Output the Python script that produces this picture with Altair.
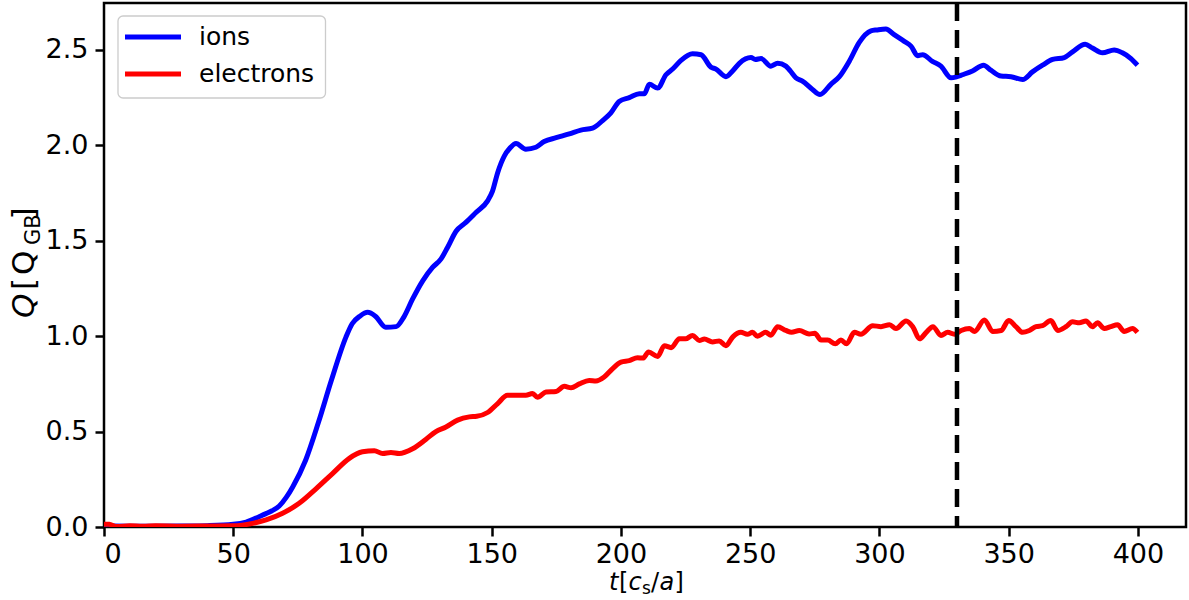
import altair as alt
import pandas as pd

# ---------------- data ----------------
t_ions = [0, 10, 20, 30, 40, 50, 55, 60, 62.7, 65, 67.8, 70.5, 73, 78, 83, 88, 93.6, 96, 99, 102, 105, 109,
          113, 116, 119.4, 123.3, 127.1, 130.4, 132.9, 136.2, 140, 143.9, 148.4, 150.3, 152.3, 154.9, 157, 159.4,
          163.2, 167.1, 170.3, 174.9, 180, 184.5, 189, 192.9, 196.1, 199.3, 203.2, 207.1, 209, 211,
          214.2, 217.4, 220, 223.2, 227.7, 231, 234.8, 236.7, 240.6, 243.2, 245.8, 250.3, 252, 254.2,
          258, 260.6, 263.8, 265.5, 267.7, 270.2, 274.1, 277, 281.2, 284.5, 288.3, 292.2, 296.7, 299,
          302.5, 305.7, 309.6, 312.2, 314.8, 316.7, 320.5, 323.8, 327.7, 330, 332.1, 336, 340.3, 343.1,
          347, 350.9, 355.4, 359.2, 363.1, 367, 371.5, 374.7, 379.6, 382.4, 386.3, 390.8, 394, 397.3, 399.8]
q_ions = [0.006, 0.004, 0.004, 0.005, 0.007, 0.014, 0.026, 0.054, 0.07, 0.085, 0.11, 0.155, 0.21, 0.35, 0.55, 0.77, 0.995, 1.065, 1.105, 1.125, 1.105, 1.047,
          1.05, 1.10, 1.195, 1.29, 1.36, 1.405, 1.465, 1.55, 1.596, 1.648, 1.709, 1.76, 1.857, 1.945, 1.985, 2.01,
          1.98, 1.99, 2.02, 2.04, 2.06, 2.08, 2.09, 2.13, 2.17, 2.23, 2.25, 2.27, 2.27, 2.32,
          2.30, 2.37, 2.40, 2.445, 2.48, 2.475, 2.41, 2.40, 2.36, 2.39, 2.43, 2.46, 2.45, 2.455,
          2.415, 2.43, 2.415, 2.39, 2.354, 2.337, 2.293, 2.267, 2.32, 2.36, 2.44, 2.54, 2.60, 2.605,
          2.61, 2.58, 2.545, 2.52, 2.47, 2.475, 2.44, 2.415, 2.354, 2.36, 2.37, 2.39, 2.42, 2.394,
          2.363, 2.36, 2.345, 2.385, 2.42, 2.45, 2.46, 2.49, 2.53, 2.51, 2.485, 2.50, 2.485, 2.455, 2.42]

t_elec = [0, 2, 5, 10, 15, 20, 30, 40, 50, 57.5, 62.7, 69.1, 75.5, 82, 88.4, 94.9, 100, 104.6, 107.8, 111,
          114.2, 119.4, 124.6, 128.4, 132.3, 136.8, 141.3, 144.2, 148.4, 152.3, 156.1, 160, 163.2, 165.8, 167.7,
          171, 174.9, 178.1, 180.7, 183.9, 187.7, 190.3, 193.5, 196.8, 200, 203.2, 206.4, 208.5, 210.7,
          214.2, 216.8, 219.4, 222.6, 225, 227.7, 230.3, 232.3, 235.4, 238, 240.6, 243.2, 246.4, 248.9,
          250.9, 252.8, 256, 258, 260.6, 263.8, 266, 269, 272.8, 275, 277.4, 280, 282.9, 285.1, 287.3,
          290.3, 292.8, 297.4, 300.6, 303.9, 306.4, 310.3, 312.9, 315.5, 318.1, 320.7, 323.8, 326.4, 329,
          331.6, 334.8, 336.8, 340.6, 343.8, 347.1, 350, 352.8, 355.4, 358, 360.6, 363.1, 366.3, 369,
          372.2, 374.7, 377.3, 379.9, 382.4, 384.4, 387, 389.5, 392.1, 394.7, 397.9, 399.8]
q_elec = [0.015, 0.014, 0.002, 0.006, 0.004, 0.006, 0.004, 0.005, 0.006, 0.019, 0.037, 0.072, 0.124, 0.20, 0.28, 0.36, 0.394, 0.40, 0.385, 0.39,
          0.385, 0.41, 0.46, 0.50, 0.524, 0.56, 0.577, 0.58, 0.60, 0.647, 0.69, 0.69, 0.69, 0.70, 0.68,
          0.707, 0.71, 0.737, 0.73, 0.75, 0.768, 0.765, 0.786, 0.83, 0.864, 0.872, 0.887, 0.885, 0.917,
          0.894, 0.95, 0.94, 0.986, 0.986, 1.004, 0.978, 0.985, 0.97, 0.975, 0.95, 0.995, 1.02, 1.01,
          1.02, 1.00, 1.02, 1.005, 1.05, 1.03, 1.02, 1.03, 1.012, 1.015, 0.98, 0.98, 0.96, 0.98, 0.96,
          1.02, 1.01, 1.055, 1.05, 1.06, 1.04, 1.08, 1.05, 0.986, 1.02, 1.05, 1.004, 1.02, 1.01,
          1.03, 1.04, 1.025, 1.085, 1.025, 1.03, 1.082, 1.05, 1.02, 1.03, 1.05, 1.055, 1.082, 1.03,
          1.05, 1.075, 1.07, 1.08, 1.05, 1.07, 1.04, 1.05, 1.06, 1.025, 1.04, 1.02]

species = ["ions", "electrons"]
colors = ["#0000ff", "#ff0000"]
t_cut = [330]
x_ticks = [0, 50, 100, 150, 200, 250, 300, 350, 400]
y_ticks = [0.0, 0.5, 1.0, 1.5, 2.0, 2.5]

# ---------------- build tables ----------------
df = pd.concat([
    pd.DataFrame({"t": t_ions, "Q": q_ions, "species": "ions"}),
    pd.DataFrame({"t": t_elec, "Q": q_elec, "species": "electrons"}),
])
cut_df = pd.DataFrame({"t": t_cut})
one = pd.DataFrame({"a": [0]})

W, H = 1082, 524
FONT = "DejaVu Sans"
TICKFS = 27

xs = alt.Scale(domain=[0, 418.6], nice=False, zero=False)
ys = alt.Scale(domain=[0, 2.746], nice=False, zero=False)

lines = alt.Chart(df).mark_line(strokeWidth=5, interpolate="monotone", clip=True).encode(
    x=alt.X("t:Q", scale=xs,
            axis=alt.Axis(values=x_ticks, title=None, grid=False, domain=False,
                          tickSize=9, tickWidth=2.5, tickColor="black",
                          labelFontSize=TICKFS, labelFont=FONT, labelColor="black",
                          labelPadding=5, format="d")),
    y=alt.Y("Q:Q", scale=ys,
            axis=alt.Axis(values=y_ticks, title=None, grid=False, domain=False,
                          tickSize=9, tickWidth=2.5, tickColor="black",
                          labelFontSize=TICKFS, labelFont=FONT, labelColor="black",
                          labelPadding=7, format=".1f")),
    color=alt.Color("species:N", scale=alt.Scale(domain=species, range=colors), legend=None),
    detail="species:N",
)

cut = alt.Chart(cut_df).mark_rule(color="black", strokeWidth=4.5, strokeDash=[18, 9]).encode(
    x=alt.X("t:Q", scale=xs)
)

# ---------------- legend (drawn by hand, matplotlib style) ----------------
leg_box = alt.Chart(one).mark_rect(fill="white", fillOpacity=0.8, stroke="#cccccc",
                                   strokeWidth=1.3, cornerRadius=5).encode(
    x=alt.value(14), x2=alt.value(221.5), y=alt.value(13), y2=alt.value(95))

leg_layers = []
for i, (name, col) in enumerate(zip(species, colors)):
    yy = 34 + i * 37
    leg_layers.append(alt.Chart(one).mark_rule(color=col, strokeWidth=5).encode(
        x=alt.value(21), x2=alt.value(77), y=alt.value(yy)))
    leg_layers.append(alt.Chart(one).mark_text(text=name, font=FONT, fontSize=25, color="black",
                                               align="left", baseline="middle").encode(
        x=alt.value(95), y=alt.value(yy)))

# ---------------- axis titles with italics / subscripts ----------------
def piece(txt, x, y, size, italic=False, angle=0):
    kw = dict(text=txt, font=FONT, fontSize=size, color="black", align="left",
              baseline="alphabetic")
    if italic:
        kw["fontStyle"] = "italic"
    if angle:
        kw["angle"] = angle
    return alt.Chart(one).mark_text(**kw).encode(x=alt.value(x), y=alt.value(y))

title_layers = []
# y title:  Q [Q_GB]  (rotated, reading bottom to top)
bx = 34 - 104
title_layers.append(piece("Q", bx, 318 - 3, 31, italic=True, angle=270))
title_layers.append(piece("[", bx, 290 - 3, 31, angle=270))
title_layers.append(piece("Q", bx, 275 - 3, 31, angle=270))
title_layers.append(piece("GB", bx + 6, 245 - 3, 21, angle=270))
title_layers.append(piece("]", bx, 219.5 - 3, 31, angle=270))
# x title:  t [c_s/a]
by = 590 - 3
title_layers.append(piece("t", 609 - 104, by, 24, italic=True))
title_layers.append(piece("[", 619 - 104, by, 24))
title_layers.append(piece("c", 628.5 - 104, by, 24, italic=True))
title_layers.append(piece("s", 642 - 104, by + 4, 17))
title_layers.append(piece("/", 651 - 104, by, 24))
title_layers.append(piece("a", 659.5 - 104, by, 24, italic=True))
title_layers.append(piece("]", 674.5 - 104, by, 24))

chart = alt.layer(lines, cut, leg_box, *leg_layers, *title_layers).properties(
    width=W, height=H,
    padding={"left": 104, "top": 3, "right": 3, "bottom": 73},
    autosize=alt.AutoSizeParams(type="none"),
    background="white",
).configure_view(stroke="black", strokeWidth=2.5)

chart.save("out.html", embed_options={"renderer": "svg", "actions": False})
